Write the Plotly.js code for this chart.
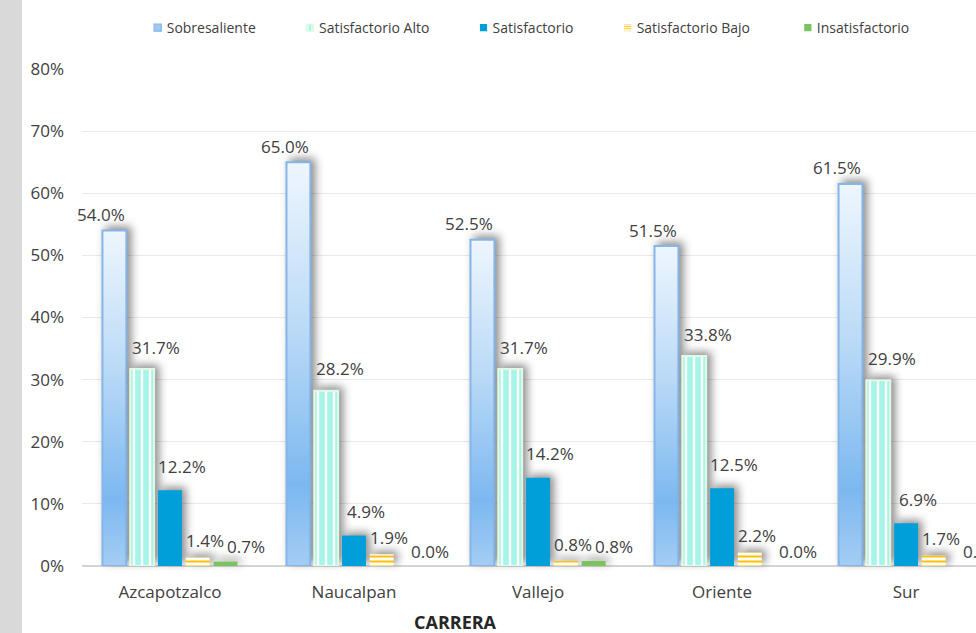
<!DOCTYPE html>
<html>
<head>
<meta charset="utf-8">
<script src="https://cdn.plot.ly/plotly-3.0.1.min.js"></script>
<style>
  html, body { margin: 0; padding: 0; background: #ffffff; overflow: hidden; }
  #chart { width: 976px; height: 633px; position: relative; }
  #strip { position: absolute; left: 0; top: 0; width: 22px; height: 633px; background: #d9d9d9; pointer-events: none; z-index: 10; }
</style>
</head>
<body>
<div id="strip"></div>
<div id="chart"></div>
<script>
// ---------- data ----------
const categories = ['Azcapotzalco', 'Naucalpan', 'Vallejo', 'Oriente', 'Sur'];
const seriesNames = ['Sobresaliente', 'Satisfactorio Alto', 'Satisfactorio', 'Satisfactorio Bajo', 'Insatisfactorio'];
const sobresaliente     = [54.0, 65.0, 52.5, 51.5, 61.5];
const satisfactorioAlto = [31.7, 28.2, 31.7, 33.8, 29.9];
const satisfactorio     = [12.2, 4.9, 14.2, 12.5, 6.9];
const satisfactorioBajo = [1.4, 1.9, 0.8, 2.2, 1.7];
const insatisfactorio   = [0.7, 0.0, 0.8, 0.0, 0.0];
const yTickVals = [0, 10, 20, 30, 40, 50, 60, 70, 80];
const yTickText = ['0%', '10%', '20%', '30%', '40%', '50%', '60%', '70%', '80%'];
const xTitle = 'CARRERA';

const allSeries = [sobresaliente, satisfactorioAlto, satisfactorio, satisfactorioBajo, insatisfactorio];

// ---------- styles ----------
const textColor = '#404040';
const markers = [
  { color: '#9cc8f2', line: { color: '#86b6e8', width: 2 } },
  { color: '#a6f5e6', line: { color: '#e3f8e6', width: 2 },
    pattern: { shape: '|', fgcolor: '#ffffff', bgcolor: '#a6f5e6', size: 8, solidity: 0.3, fillmode: 'replace' } },
  { color: '#009fda', line: { width: 0 } },
  { color: '#ffc000', line: { width: 0 },
    pattern: { shape: '-', fgcolor: '#ffc000', bgcolor: '#ffffff', size: 5, solidity: 0.4, fillmode: 'replace' } },
  { color: '#7ac35e', line: { width: 0 } }
];
const labelXShift = [-13, 14, 12, 7, 20];
const labelYShift = [16, 22, 24, 17, 15];

const bargap = 0.245;
const slot = (1 - bargap) / allSeries.length;

const legendPad = ['\u00a0\u00a0\u00a0\u00a0\u00a0', '\u00a0\u00a0\u00a0\u00a0\u00a0', '\u00a0\u00a0\u00a0\u00a0\u00a0', '\u00a0\u00a0\u00a0\u00a0\u00a0\u00a0', ''];

const traces = allSeries.map((vals, k) => ({
  type: 'bar',
  name: seriesNames[k] + legendPad[k],
  x: categories,
  y: vals,
  marker: markers[k],
  hoverinfo: 'skip',
  cliponaxis: false
}));

const annotations = [];
allSeries.forEach((vals, k) => {
  vals.forEach((v, i) => {
    annotations.push({
      xref: 'x', yref: 'y',
      x: i + (k - (allSeries.length - 1) / 2) * slot,
      y: v,
      text: v.toFixed(1) + '%',
      showarrow: false,
      xanchor: 'center', yanchor: 'middle',
      xshift: labelXShift[k], yshift: labelYShift[k],
      font: { family: 'Open Sans, sans-serif', size: 17, color: textColor }
    });
  });
});
annotations.push({
  xref: 'paper', yref: 'paper', x: 0.418, y: -0.1127,
  xanchor: 'center', yanchor: 'middle', showarrow: false,
  text: '<b>' + xTitle + '</b>',
  font: { family: 'Open Sans, sans-serif', size: 18, color: '#262626' }
});

const layout = {
  width: 976, height: 633,
  margin: { l: 82, r: 0, t: 69, b: 67, pad: 0 },
  paper_bgcolor: '#ffffff', plot_bgcolor: '#ffffff',
  barmode: 'group', bargap: bargap, bargroupgap: 0.14,
  showlegend: true,
  legend: {
    orientation: 'h', x: 0.05, xanchor: 'left', y: 1.0825, yanchor: 'middle',
    font: { family: 'Open Sans, sans-serif', size: 14, color: textColor },
    itemwidth: 30, bgcolor: 'rgba(0,0,0,0)', traceorder: 'normal'
  },
  xaxis: {
    type: 'category', categoryorder: 'array', categoryarray: categories,
    range: [-0.478, 4.38], showgrid: false, zeroline: false, showline: false,
    ticks: '', ticklabelstandoff: 14,
    tickfont: { family: 'Open Sans, sans-serif', size: 17, color: textColor },
    fixedrange: true
  },
  yaxis: {
    range: [0, 80], tickvals: yTickVals, ticktext: yTickText,
    showgrid: true, gridcolor: '#e9e9e9', gridwidth: 1,
    zeroline: true, zerolinecolor: '#d4d4d4', zerolinewidth: 2,
    showline: false, ticks: '', ticklabelstandoff: 17,
    tickfont: { family: 'Open Sans, sans-serif', size: 17, color: textColor },
    fixedrange: true
  },
  annotations: annotations
};

function decorate(gd) {
  const svg = gd.querySelector('svg.main-svg');
  const NS = 'http://www.w3.org/2000/svg';
  let defs = svg.querySelector('defs.custom-defs');
  if (!defs) {
    defs = document.createElementNS(NS, 'defs');
    defs.setAttribute('class', 'custom-defs');
    defs.innerHTML =
      '<linearGradient id="gradSob" x1="0" y1="0" x2="0" y2="1">' +
        '<stop offset="0" stop-color="#eef6fe"/>' +
        '<stop offset="0.4" stop-color="#bcdbf7"/>' +
        '<stop offset="0.8" stop-color="#7cb8f0"/>' +
        '<stop offset="1" stop-color="#a4cdf4"/>' +
      '</linearGradient>';
    svg.insertBefore(defs, svg.firstChild);
  }
  const barTraces = gd.querySelectorAll('.barlayer .trace.bars');
  barTraces.forEach((tr, k) => {
    tr.querySelectorAll('g.point path').forEach(p => {
      if (k === 0) p.style.fill = 'url(#gradSob)';
    });
    tr.querySelectorAll('g.point').forEach(g => {
      g.style.filter = 'drop-shadow(4px -3px 4px rgba(0,0,0,0.45))';
    });
  });
  // compact legend symbols placed close to their text
  gd.querySelectorAll('.legend .legendpoints').forEach(lp => {
    lp.setAttribute('transform', 'translate(19,0) scale(0.6)');
  });
}

Plotly.newPlot('chart', traces, layout, { displayModeBar: false, staticPlot: true }).then(decorate);
</script>
</body>
</html>
